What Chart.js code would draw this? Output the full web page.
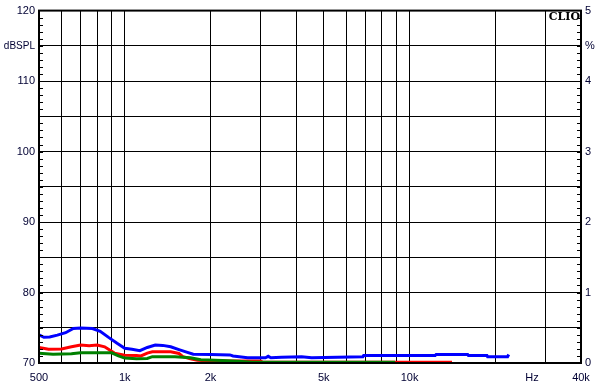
<!DOCTYPE html>
<html>
<head>
<meta charset="utf-8">
<script src="https://cdn.jsdelivr.net/npm/chart.js@4"></script>
<style>
  html, body { margin: 0; padding: 0; background: #fff; }
  #wrap { width: 598px; height: 390px; }
</style>
</head>
<body>
<div id="wrap"><canvas id="clioChart" width="598" height="390"></canvas></div>
<script>
// Frequency grid and labels
var freqTicks = [500, 600, 700, 800, 900, 1000, 2000, 3000, 4000, 5000, 6000, 7000, 8000, 9000, 10000, 20000, 30000, 40000];
var freqLabels = { 500: "500", 1000: "1k", 2000: "2k", 5000: "5k", 10000: "10k", 40000: "40k" };
var hzPos = 26900;

// Blue curve
var blueFreq = [500, 520, 545, 580, 620, 660, 700, 770, 820, 880, 940, 1000, 1060, 1130, 1200, 1280, 1360, 1450, 1550, 1650, 1740, 2000, 2340, 2400, 2700, 3120, 3190, 3260, 3550, 4180, 4530, 6860, 6900, 12300, 12400, 16000, 16100, 18700, 18800, 22100, 22300];
var blueDb = [74.0, 73.65, 73.7, 73.95, 74.3, 74.9, 74.95, 74.9, 74.5, 73.6, 72.8, 72.1, 71.95, 71.75, 72.2, 72.55, 72.5, 72.3, 71.9, 71.55, 71.25, 71.2, 71.15, 71.0, 70.75, 70.75, 70.95, 70.75, 70.8, 70.9, 70.75, 70.9, 71.05, 71.05, 71.2, 71.2, 71.05, 71.05, 70.9, 70.9, 71.2];

// Red curve
var redFreq = [500, 540, 600, 650, 700, 750, 800, 850, 920, 1000, 1100, 1140, 1200, 1250, 1450, 1550, 1600, 1700, 1800, 2000, 3000, 3050, 9000, 14100];
var redDb = [72.2, 71.95, 72.0, 72.3, 72.55, 72.45, 72.55, 72.3, 71.4, 71.1, 71.05, 71.0, 71.4, 71.6, 71.6, 71.35, 70.9, 70.6, 70.4, 70.3, 70.3, 70.1, 70.1, 70.1];

// Green curve
var greenFreq = [500, 560, 650, 700, 900, 950, 1000, 1100, 1200, 1250, 1500, 1700, 1850, 2200, 2500, 2800, 8900];
var greenDb = [71.4, 71.25, 71.3, 71.45, 71.45, 71.0, 70.7, 70.6, 70.65, 70.9, 70.9, 70.75, 70.45, 70.35, 70.25, 70.1, 70.1];

function toPoints(fs, ys) {
  return fs.map(function (f, i) { return { x: f, y: ys[i] }; });
}

var textColor = "#000033";

var framePlugin = {
  id: "frame",
  afterDraw: function (chart) {
    var c = chart.ctx;
    var a = chart.chartArea;
    var y = chart.scales.y;
    c.save();
    c.strokeStyle = "#000";
    c.lineWidth = 1;
    // minor ticks on both vertical axes
    for (var v = 71; v < 120; v++) {
      var py = Math.round(y.getPixelForValue(v)) + 0.5;
      c.beginPath();
      c.moveTo(a.left, py);
      c.lineTo(a.left + 4, py);
      c.moveTo(a.right - 4, py);
      c.lineTo(a.right, py);
      c.stroke();
    }
    c.lineWidth = 2;
    c.strokeRect(a.left, a.top, a.right - a.left, a.bottom - a.top);
    c.fillStyle = "#000";
    c.font = "bold 11px 'DejaVu Serif'";
    c.textAlign = "right";
    c.textBaseline = "middle";
    c.fillText("CLIO", a.right - 1, a.top + 7);
    c.restore();
  }
};

var ctx = document.getElementById("clioChart").getContext("2d");

var clioChart = new Chart(ctx, {
  type: "line",
  data: {
    datasets: [
      {
        label: "blue",
        data: toPoints(blueFreq, blueDb),
        borderColor: "#0000ff",
        borderWidth: 3,
        pointRadius: 0,
        fill: false,
        tension: 0,
      },
      {
        label: "green",
        data: toPoints(greenFreq, greenDb),
        borderColor: "#008000",
        borderWidth: 3,
        pointRadius: 0,
        fill: false,
        tension: 0,
      },
      {
        label: "red",
        data: toPoints(redFreq, redDb),
        borderColor: "#ff0000",
        borderWidth: 3,
        pointRadius: 0,
        fill: false,
        tension: 0,
      },
    ],
  },
  options: {
    responsive: false,
    animation: false,
    layout: { padding: { top: 10, right: 0, left: 0, bottom: 0 } },
    plugins: {
      legend: { display: false },
      tooltip: { enabled: false },
    },
    scales: {
      x: {
        type: "logarithmic",
        min: 500,
        max: 40000,
        afterBuildTicks: function (scale) {
          var t = freqTicks.concat([hzPos]).sort(function (a, b) { return a - b; });
          scale.ticks = t.map(function (v) { return { value: v }; });
        },
        afterFit: function (scale) { scale.height = 27; },
        ticks: {
          autoSkip: false,
          maxRotation: 0,
          padding: 8,
          color: textColor,
          font: { family: "'Liberation Sans', Arial", size: 11 },
          callback: function (v) {
            if (v === hzPos) return "Hz";
            return freqLabels[v] || "";
          },
        },
        grid: {
          drawTicks: false,
          color: function (c) {
            return c.tick && c.tick.value === hzPos ? "rgba(0,0,0,0)" : "#000";
          },
          lineWidth: 1,
        },
        border: { display: false },
      },
      y: {
        type: "linear",
        position: "left",
        min: 70,
        max: 120,
        afterBuildTicks: function (scale) {
          var t = [];
          for (var v = 70; v <= 120; v += 5) t.push({ value: v });
          scale.ticks = t;
        },
        afterFit: function (scale) { scale.width = 39; },
        ticks: {
          autoSkip: false,
          padding: 4,
          color: textColor,
          font: function (c) {
            var small = c.tick && c.tick.value === 115;
            return { family: "'Liberation Sans', Arial", size: small ? 10 : 11 };
          },
          callback: function (v) {
            if (v === 115) return "dBSPL";
            return v % 10 === 0 ? String(v) : "";
          },
        },
        grid: { drawTicks: false, color: "#000", lineWidth: 1 },
        border: { display: false },
      },
      y2: {
        type: "linear",
        position: "right",
        min: 0,
        max: 5,
        afterBuildTicks: function (scale) {
          scale.ticks = [0, 1, 2, 3, 4, 4.5, 5].map(function (v) { return { value: v }; });
        },
        afterFit: function (scale) { scale.width = 17; },
        ticks: {
          autoSkip: false,
          padding: 4,
          color: textColor,
          font: { family: "'Liberation Sans', Arial", size: 11 },
          callback: function (v) { return v === 4.5 ? "%" : String(v); },
        },
        grid: { display: false, drawTicks: false },
        border: { display: false },
      },
    },
  },
  plugins: [framePlugin],
});
</script>
</body>
</html>
